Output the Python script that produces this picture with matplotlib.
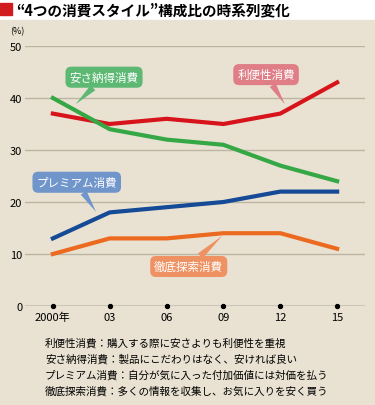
import matplotlib.pyplot as plt
import matplotlib.patches as patches

plt.rcParams['font.family'] = ['Noto Sans CJK JP', 'DejaVu Sans']

years = ['2000年', '03', '06', '09', '12', '15']
convenience = [37, 35, 36, 35, 37, 43]   # 利便性消費
cheap = [40, 34, 32, 31, 27, 24]         # 安さ納得消費
premium = [13, 18, 19, 20, 22, 22]       # プレミアム消費
search = [10, 13, 13, 14, 14, 11]        # 徹底探索消費
yticks = [0, 10, 20, 30, 40, 50]

notes = [
    '利便性消費：購入する際に安さよりも利便性を重視',
    '安さ納得消費：製品にこだわりはなく、安ければ良い',
    'プレミアム消費：自分が気に入った付加価値には対価を払う',
    '徹底探索消費：多くの情報を収集し、お気に入りを安く買う',
]

bg = '#e9e2d2'
fig = plt.figure(figsize=(3.75, 4.06), dpi=100)
fig.patch.set_facecolor('white')
fig.patches.append(patches.Rectangle((0, 0), 1, 1 - 21 / 406, transform=fig.transFigure,
                                     color=bg, zorder=-10))
# title
fig.patches.append(patches.Rectangle((0, 1 - 16 / 406), 12 / 375, 12 / 406,
                                     transform=fig.transFigure, color='#d01c1f'))
fig.text(16 / 375, 1 - 10 / 406, '“4つの消費スタイル”構成比の時系列変化',
         fontsize=10.5, fontweight='bold', va='center', ha='left')

ax = fig.add_axes([25 / 375, 1 - 307 / 406, 340 / 375, 260 / 406])
ax.set_facecolor('none')
x = list(range(len(years)))
ax.set_xlim(-0.49, 5.49)
ax.set_ylim(0, 50)
for s in ax.spines.values():
    s.set_visible(False)
for v in yticks[1:]:
    ax.axhline(v, color='#bdb5a3', lw=1, zorder=1)
ax.axhline(0, color='#555555', lw=1, zorder=1)
ax.scatter(x, [0] * len(x), s=8, color='black', zorder=3, clip_on=False)

ax.plot(x, convenience, color='#d7141c', lw=3, zorder=4, clip_on=False)
ax.plot(x, cheap, color='#35a845', lw=3, zorder=4, clip_on=False)
ax.plot(x, premium, color='#154a97', lw=3, zorder=4, clip_on=False)
ax.plot(x, search, color='#ec6a1f', lw=3, zorder=4, clip_on=False)

ax.set_xticks(x)
ax.set_xticklabels(years, fontsize=8)
ax.set_yticks(yticks)
ax.set_yticklabels([str(v) for v in yticks], fontsize=8)
ax.tick_params(length=0, pad=4)
ax.tick_params(axis='y', pad=2)
ax.text(-0.62, 53, '(%)', fontsize=6.5, ha='center', va='center')


def callout(text, tip, box, color):
    ax.annotate(text, xy=tip, xytext=box, fontsize=8.3, color='white',
                ha='center', va='center', zorder=6,
                bbox=dict(boxstyle='round,pad=0.35,rounding_size=0.5', fc=color, ec='none'),
                arrowprops=dict(arrowstyle='wedge,tail_width=0.6', fc=color, ec='none',
                                shrinkA=0, shrinkB=0))


callout('安さ納得消費', (0.40, 38.8), (0.90, 44.0), '#5cb873')
callout('利便性消費', (4.08, 38.8), (3.75, 44.5), '#df7e86')
callout('プレミアム消費', (0.76, 18.1), (0.42, 23.8), '#6f95cb')
callout('徹底探索消費', (2.98, 13.5), (2.39, 7.6), '#ee9263')

for i, line in enumerate(notes):
    fig.text(45 / 375, 1 - (343 + 16 * i) / 406, line, fontsize=7.6,
             ha='left', va='center')

fig.savefig('out.png', dpi=100, facecolor=fig.get_facecolor())
